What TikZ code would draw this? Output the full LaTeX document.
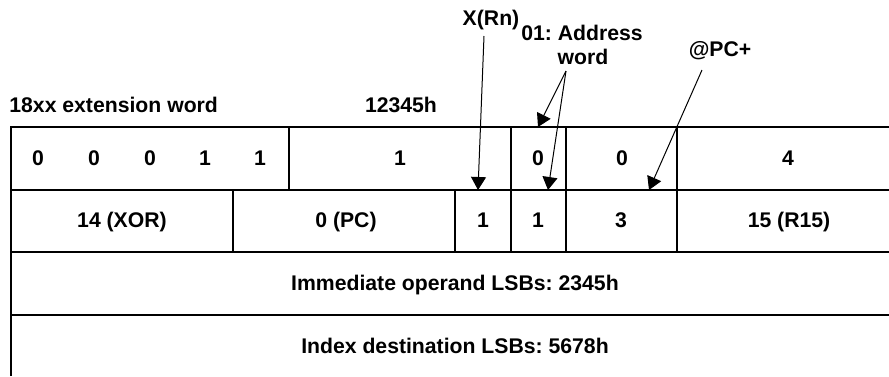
\documentclass[tikz,border=0pt]{standalone}
\usepackage{fontspec}
\setmainfont{Liberation Sans}
\usetikzlibrary{arrows.meta}

\begin{document}
\begin{tikzpicture}[x=0.5pt, y=-0.5pt,
    field/.style={font=\bfseries\fontsize{10.6}{12.7}\selectfont\frenchspacing,
        inner sep=0pt, text height=7.6pt, text depth=0pt},
    rule/.style={line width=1.1pt},
    pointer/.style={line width=0.5pt, -{Triangle[length=6.5pt, width=7.5pt]}}]
    \useasboundingbox (0,0) rectangle (889,376);

    % Word frame (open at right and bottom)
    \draw[rule] (11,376) -- (11,127) -- (889,127);
    \foreach \y in {190,252,315}
        \draw[rule] (11,\y) -- (889,\y);
    \foreach \x in {289,511,566,677}
        \draw[rule] (\x,127) -- (\x,190);
    \foreach \x in {233,455,511,566,677}
        \draw[rule] (\x,190) -- (\x,252);

    % Headings
    \node[field, anchor=west] (title) at (9,104.5) {18xx extension word};
    \node[field] (value) at (401,104.5) {12345h};

    % Extension word fields
    \foreach \x/\b [count=\i] in {38/0,94/0,150/0,205/1,260/1}
        \node[field] (ext\i) at (\x,158) {\b};
    \node[field] (al) at (400,158) {1};
    \node[field] (zc) at (538,158) {0};
    \node[field] (rpt) at (622,158) {0};
    \node[field] (msb) at (788,158) {4};

    % Instruction word fields
    \node[field] (opc) at (122,220) {14 (XOR)};
    \node[field] (src) at (346,220) {0 (PC)};
    \node[field] (ad) at (483,220) {1};
    \node[field] (bw) at (538,220) {1};
    \node[field] (as) at (621,220) {3};
    \node[field] (dst) at (789,220) {15 (R15)};

    % Following words
    \node[field] (imm) at (455,283) {Immediate operand LSBs: 2345h};
    \node[field] (idx) at (455,346) {Index destination LSBs: 5678h};

    % Callouts
    \node[field] (xrn) at (491,18) {X(Rn)};
    \node[field] (addr) at (582,33) {01: Address};
    \node[field] (word) at (583,57) {word};
    \node[field] (pcinc) at (720,49) {@PC+};

    \coordinate (xtip) at (478,190);
    \coordinate (ztop) at (538,127);
    \coordinate (zbot) at (548,190);
    \coordinate (ptip) at (649,190);

    \draw[pointer] ([shift={(-7,10)}]xrn.south) -- (xtip);
    \draw[pointer] ([shift={(-17,6)}]word.south) -- (ztop);
    \draw[pointer] ([shift={(-17,6)}]word.south) -- (zbot);
    \draw[pointer] ([shift={(-18,13)}]pcinc.south) -- (ptip);
\end{tikzpicture}
\end{document}
